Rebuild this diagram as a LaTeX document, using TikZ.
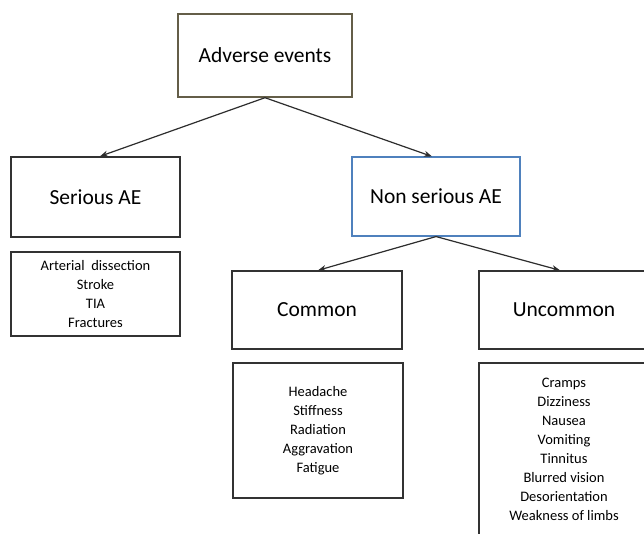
\documentclass[tikz,border=0pt]{standalone}
\usepackage{fontspec}
\setmainfont{Carlito}
\usetikzlibrary{arrows.meta}
\definecolor{boxgray}{RGB}{50,50,50}
\definecolor{topbox}{RGB}{100,94,72}
\definecolor{bluebox}{RGB}{79,129,189}
\definecolor{arrowgray}{RGB}{45,45,45}
\tikzset{
  titlebox/.style={draw=boxgray, line width=1.4pt, minimum width=170pt, minimum height=79pt,
    inner sep=0pt, font=\fontsize{21.5}{24}\selectfont, text=black},
  listbox/.style={draw=boxgray, line width=1.4pt, minimum width=170pt, inner sep=0pt,
    align=center, font=\fontsize{14.5}{19}\selectfont, text=black},
  conn/.style={draw=arrowgray, line width=1.2pt, -{Stealth[length=8pt,width=6pt]}}
}
\begin{document}
\begin{tikzpicture}[x=1pt,y=-1pt]
\useasboundingbox (0,0) rectangle (644,533);
\clip (0,0) rectangle (644,533);
\fill[white] (0,0) rectangle (644,533);
\node[titlebox, draw=topbox, minimum width=174pt, minimum height=83pt] (adv) at (265,55.5) {Adverse events};
\node[titlebox, minimum width=169pt, minimum height=80pt] (ser) at (95.5,197) {Serious AE};
\node[listbox, minimum width=169pt, minimum height=84pt] (serl) at (95.5,294)
  {Arterial\ \ dissection\\Stroke\\TIA\\Fractures};
\node[titlebox, draw=bluebox, line width=1.1pt, minimum width=168pt, minimum height=79pt] (nser) at (436,196.5) {Non serious AE};
\node[titlebox, minimum height=78pt] (com) at (317,310) {Common};
\node[listbox, minimum height=135pt] (coml) at (318,430.5)
  {Headache\\Stiffness\\Radiation\\Aggravation\\Fatigue};
\node[titlebox, minimum height=78pt] (unc) at (564,310) {Uncommon};
\node[listbox, minimum height=173pt] (uncl) at (564,449.5)
  {Cramps\\Dizziness\\Nausea\\Vomiting\\Tinnitus\\Blurred vision\\Desorientation\\Weakness of limbs};
\draw[conn] (adv.south) -- ([xshift=4.5pt]ser.north);
\draw[conn] (adv.south) -- ([xshift=-4pt]nser.north);
\draw[conn] (nser.south) -- ([xshift=1pt]com.north);
\draw[conn] (nser.south) -- ([xshift=-4pt]unc.north);
\end{tikzpicture}
\end{document}
